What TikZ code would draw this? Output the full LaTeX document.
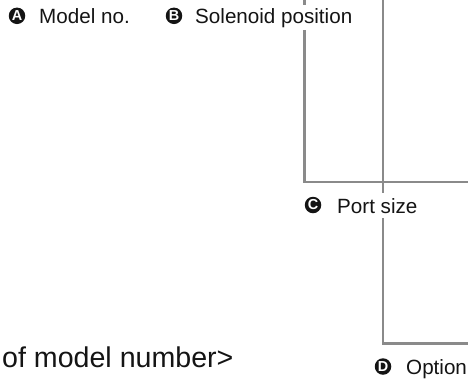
\documentclass[tikz,border=0pt]{standalone}
\usepackage{fontspec}
\setmainfont{Liberation Sans}
\usetikzlibrary{positioning}
\definecolor{leadgray}{RGB}{138,138,138}
\definecolor{inkblack}{RGB}{20,20,20}

\begin{document}
\begin{tikzpicture}[x=1bp, y=-1bp,
  badge/.style={circle, fill=inkblack, text=white, inner sep=0pt, minimum size=16.5bp,
    font=\fontsize{14.5}{14.5}\selectfont\bfseries},
  lbl/.style={anchor=base west, fill=white, inner sep=3bp, text=inkblack,
    font=\fontsize{20.7}{24}\selectfont},
  lead/.style={draw=leadgray, line width=2.2bp}]
  \useasboundingbox (0,0) rectangle (468,382);
  % leader lines
  \coordinate (topB) at (304.5,0);
  \coordinate (cornB) at (304.5,182);
  \coordinate (endB) at (468,182);
  \coordinate (topC) at (383,0);
  \coordinate (cornC) at (383,343.5);
  \coordinate (endC) at (468,343.5);
  \draw[lead] (topB) -- (cornB) -- (endB);
  \draw[lead] (topC) -- (cornC) -- (endC);
  % labels
  \node[badge] (circA) at (17,15.8) {A};
  \node[lbl] (labA) at (36,23) {Model no.};
  \node[badge] (circB) at (174,15.8) {B};
  \node[lbl] (labB) at (192,23) {Solenoid position};
  \node[badge] (circC) at (313,205) {C};
  \node[lbl, inner ysep=5bp] (labC) at (334,213) {Port size};
  \node[badge] (circD) at (383,366.5) {D};
  \node[lbl] (labD) at (403,374) {Option};
  % heading, cut at the left
  \node[anchor=base west, inner sep=0pt, text=inkblack,
    font=\fontsize{28.7}{32}\selectfont] (title) at (2,367) {of model number>};
\end{tikzpicture}
\end{document}
